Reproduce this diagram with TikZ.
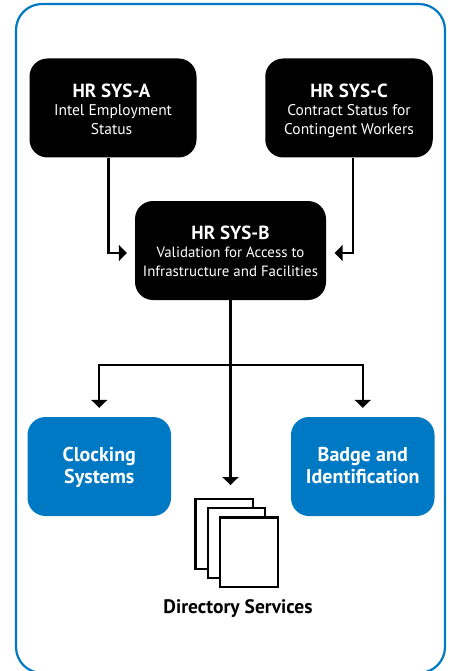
\documentclass[tikz,border=0pt]{standalone}
\usepackage{fontspec}
\setmainfont{PT Sans}
\usetikzlibrary{arrows.meta,positioning}
\definecolor{ibm}{HTML}{0079C4}
\newcommand{\ttlfont}{\fontsize{19}{19}\selectfont\bfseries\rule{0pt}{19pt}}
\newcommand{\subfont}{\fontsize{15.5}{19}\selectfont\mdseries}
\newcommand{\subfontb}{\fontsize{14.9}{19}\selectfont\mdseries}
\tikzset{
  x=1pt,y=-1pt,
  frameline/.style={draw=ibm,line width=2.2pt},
  sysbox/.style={fill=black,text=white,rounded corners=18pt,inner sep=0pt,align=center,minimum height=99pt,font=\fontsize{15.5}{19}\selectfont},
  bluebox/.style={fill=ibm,text=white,rounded corners=18pt,inner sep=0pt,align=center,minimum width=143.5pt,minimum height=99pt,font=\fontsize{20}{22}\selectfont\bfseries},
  conn/.style={line width=2.4pt,-{Triangle[length=8pt,width=16pt]}},
  pagebox/.style={draw=black,fill=white,line width=2.4pt,inner sep=0pt,minimum width=57.5pt,minimum height=69.5pt},
}
\begin{document}
\begin{tikzpicture}
\useasboundingbox (0,0) rectangle (451,671);
\begin{scope}
\clip (0,0) rectangle (451,671);
\node[frameline,rounded corners=26pt,minimum width=429pt,minimum height=669pt,inner sep=0pt] (frame) at (230.5,338.5) {};
\end{scope}
\node[sysbox,minimum width=167pt] (a) at (113,108) {\ttlfont HR SYS-A\hspace*{3pt}\\[-1pt]\subfont Intel Employment\hspace*{3pt}\\\subfont Status\vphantom{y}\hspace*{3pt}};
\node[sysbox,minimum width=167.5pt] (c) at (349,108) {\ttlfont HR SYS-C\\[-1pt]\subfont Contract Status for\\\subfont Contingent Workers};
\node[sysbox,minimum width=191pt] (b) at (230.5,250.5) {\ttlfont HR SYS-B\\[-1pt]\subfontb Validation for Access to\\\subfontb Infrastructure and Facilities\vphantom{y}};
\node[bluebox] (clock) at (99.25,466.5) {\rule{0pt}{17pt}Clocking\\Systems};
\node[bluebox] (badge) at (362.75,466.5) {\rule{0pt}{17pt}Badge and\\Identification\vphantom{y}};
\node[pagebox] (p1) at (224.25,534) {};
\node[pagebox] (p2) at (236.5,543) {};
\node[pagebox] (p3) at (249,552.25) {};
\node[font=\fontsize{19.5}{21}\selectfont\bfseries,inner sep=0pt] (dir) at (238,608.5) {Directory Services};
\draw[conn,shorten >=8pt] ([xshift=-4.5pt]a.south) |- ([yshift=-2.5pt]b.west);
\draw[conn,shorten >=8.5pt] ([xshift=4pt]c.south) |- ([yshift=-2.5pt]b.east);
\draw[conn,shorten >=13pt] (b.south) -- (p1.north -| b.south);
\coordinate (fork) at ([yshift=-65pt]b.south);
\draw[conn,shorten >=9pt] (fork) -| (clock.north);
\draw[conn,shorten >=9pt] (fork) -| (badge.north);
\end{tikzpicture}
\end{document}
